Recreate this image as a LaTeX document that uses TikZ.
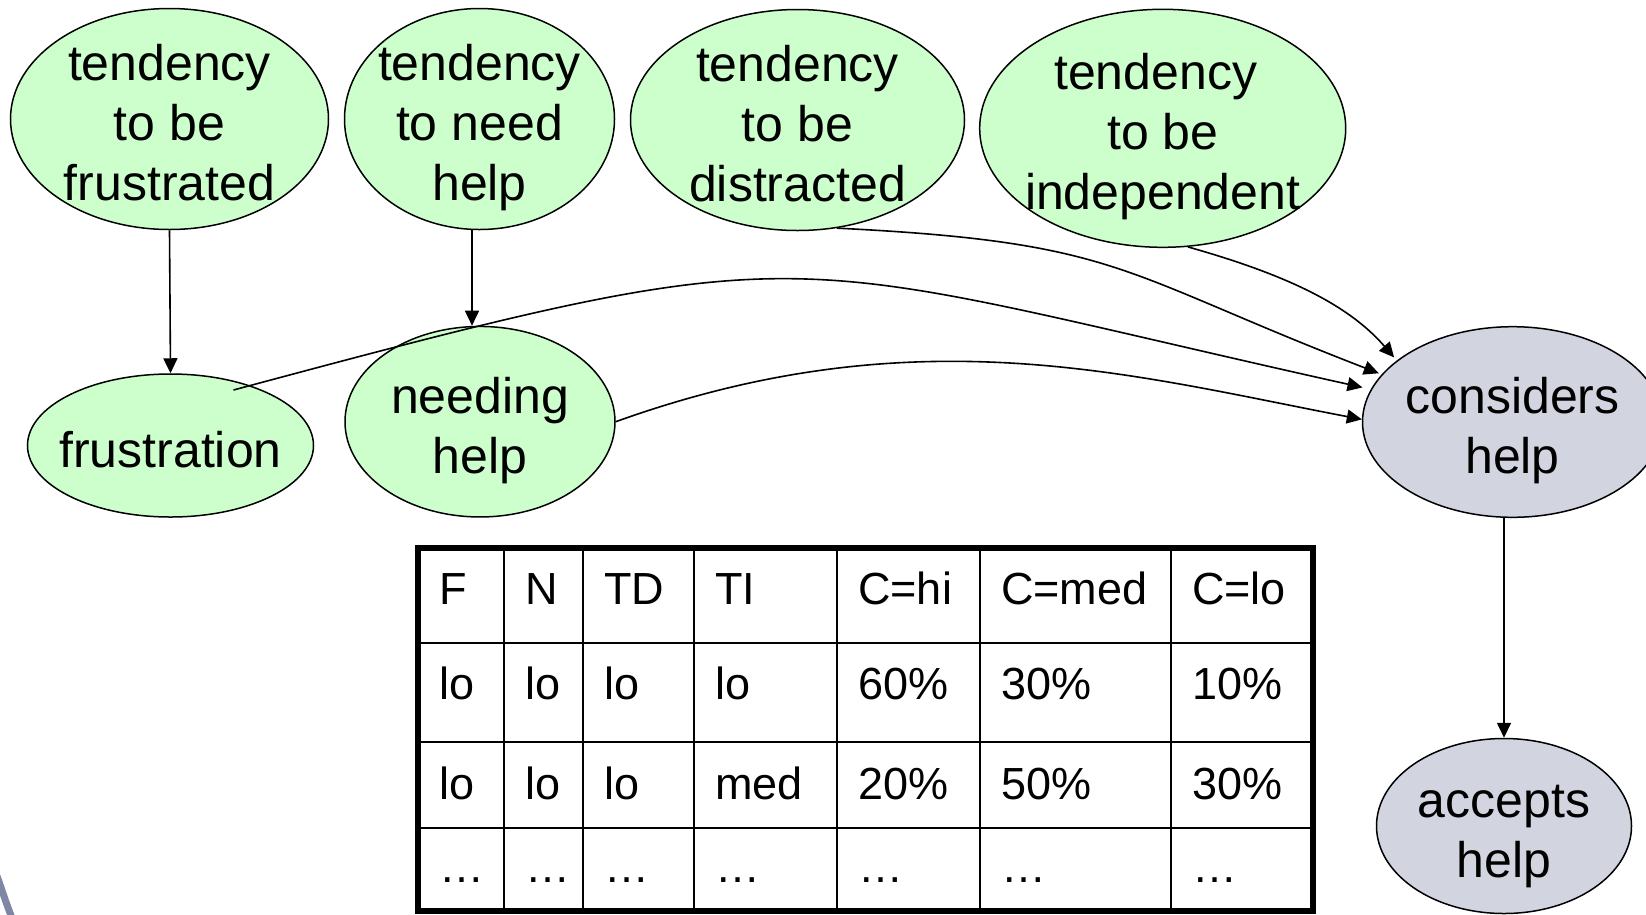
\documentclass[tikz,border=0pt]{standalone}
\usepackage{fontspec}
\setmainfont{Liberation Sans}
\usetikzlibrary{shapes.geometric,arrows.meta}
\definecolor{nodegreen}{RGB}{204,255,204}
\definecolor{nodegray}{RGB}{210,213,224}
\definecolor{framegray}{RGB}{127,134,166}
\tikzset{
  bubble/.style={ellipse, draw=black, line width=1.5pt, inner sep=0pt, fill=nodegreen},
  query/.style={bubble, fill=nodegray},
  bubbletext/.style={align=center, inner sep=0pt, yshift=-9.5pt, font=\fontsize{50}{60}\selectfont},
  link/.style={line width=1.6pt, -{Triangle[length=15pt,width=14pt]}},
  celltext/.style={anchor=base west, inner sep=0pt, font=\fontsize{45}{54}\selectfont},
  thinrule/.style={line width=2pt},
  thickrule/.style={line width=5.5pt},
}
\begin{document}
\begin{tikzpicture}[x=1pt,y=-1pt]
\useasboundingbox (0,0) rectangle (1646,914);

% slide decoration in the lower left corner
\draw[framegray, line width=7pt] (-3,876) .. controls (2,890) and (6,903) .. (12,918);

% network nodes
\node[bubble, minimum width=318pt, minimum height=221pt] (TF) at (169.5,119) {};
\node[bubbletext] (TF-text) at (TF.center) {\strut tendency\\\strut to be\\\strut frustrated};

\node[bubble, minimum width=270pt, minimum height=221pt] (TN) at (479.5,119) {};
\node[bubbletext] (TN-text) at (TN.center) {\strut tendency\\\strut to need\\\strut help};

\node[bubble, minimum width=334pt, minimum height=221pt] (TD) at (797.5,120) {};
\node[bubbletext] (TD-text) at (TD.center) {\strut tendency\\\strut to be\\\strut distracted};

\node[bubble, minimum width=366pt, minimum height=238pt] (TI) at (1162.7,128.3) {};
\node[bubbletext] (TI-text) at (TI.center) {\strut tendency\hspace*{0.278em}\\\strut to be\\\strut independent};

\node[bubble, minimum width=286pt, minimum height=143pt] (FR) at (170.5,445.5) {};
\node[bubbletext] (FR-text) at (FR.center) {\strut frustration};

\node[bubble, minimum width=270pt, minimum height=190.5pt] (NH) at (480,421.7) {};
\node[bubbletext] (NH-text) at (NH.center) {\strut needing\\\strut help};

\node[query, minimum width=300pt, minimum height=190.6pt] (CH) at (1512.5,422) {};
\node[bubbletext] (CH-text) at (CH.center) {\strut considers\\\strut help};

\node[query, minimum width=255pt, minimum height=175pt] (AH) at (1504,826) {};
\node[bubbletext] (AH-text) at (AH.center) {\strut accepts\\\strut help};

% straight links
\draw[link] (TF.south) -- (FR.north);
\draw[link] ([xshift=-7.5pt]TN.south) -- ([xshift=-8pt]NH.north);
\draw[link] (CH.south -| AH.north) -- (AH.north);

% curved links into "considers help"
\coordinate (FR-src) at ([shift={(63,-55.5)}]FR.center);
\draw[link, shorten >=8.5pt] (FR-src) .. controls +(596,-160) and +(-603,-134) .. (CH.167);
\draw[link] (NH.east) .. controls +(300,-108) and +(-230,-44) .. (CH.179);
\draw[link, shorten >=3pt] (TD.-70) .. controls +(284,14) and +(-264,-102) .. (CH.160);
\draw[link, shorten >=4pt] (TI.-78) .. controls +(105.6,29.7) and +(-46,-53) .. (CH.152);

% conditional probability table
\foreach \x in {504,583,694,837,980,1171}
  \draw[thinrule] (\x,548) -- (\x,911);
\foreach \y in {643,742,828}
  \draw[thinrule] (418,\y) -- (1313,\y);
\draw[thickrule] (418,548) rectangle (1313,911);

\foreach \cells [count=\r] in {{F,N,TD,TI,C=hi,C=med,C=lo},{lo,lo,lo,lo,60\%,30\%,10\%},{lo,lo,lo,med,20\%,50\%,30\%},{…,…,…,…,…,…,…}} {
  \pgfmathsetmacro\by{{604,699,799,882}[\r-1]}
  \foreach \t [count=\c] in \cells {
    \pgfmathsetmacro\bx{{418,504,583,694,837,980,1171}[\c-1]+21}
    \node[celltext] (cell-\r-\c) at (\bx,\by) {\t};
  }
}
\end{tikzpicture}
\end{document}
